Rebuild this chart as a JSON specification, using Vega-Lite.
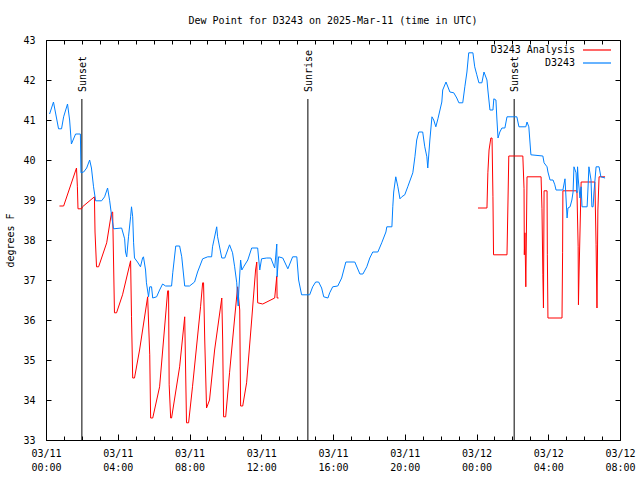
{
"$schema":"https://vega.github.io/schema/vega-lite/v6.json",
"width":574,"height":400,
"autosize":{"type":"none"},
"padding":{"left":46,"top":40,"right":20,"bottom":40},
"background":"white",
"config":{"view":{"stroke":"black","strokeWidth":1},"font":"DejaVu Sans Mono",
 "axis":{"domain":false,"grid":false,"labelFont":"DejaVu Sans Mono","labelFontSize":10,"labelColor":"black","tickColor":"black","titleFont":"DejaVu Sans Mono","titleFontSize":10,"titleFontWeight":"normal","titleColor":"black","labelFlush":false,"labelOverlap":false,"labelBound":false}},
"title":{"text":"Dew Point for D3243 on 2025-Mar-11 (time in UTC)","font":"DejaVu Sans Mono","fontSize":10,"fontWeight":"normal","color":"black","anchor":"middle","offset":9},
"datasets":{
"events":[{"t":"2025-03-11T02:00:00Z","label":"Sunset"},{"t":"2025-03-11T14:36:00Z","label":"Sunrise"},{"t":"2025-03-12T02:06:00Z","label":"Sunset"}],
"obs":[
{"t":"2025-03-11T00:45:00Z","v":38.85,"s":"D3243 Analysis","g":1},
{"t":"2025-03-11T00:59:00Z","v":38.85,"s":"D3243 Analysis","g":1},
{"t":"2025-03-11T01:42:00Z","v":39.8,"s":"D3243 Analysis","g":1},
{"t":"2025-03-11T01:45:00Z","v":39.33,"s":"D3243 Analysis","g":1},
{"t":"2025-03-11T01:47:00Z","v":38.78,"s":"D3243 Analysis","g":1},
{"t":"2025-03-11T01:59:00Z","v":38.78,"s":"D3243 Analysis","g":1},
{"t":"2025-03-11T02:02:00Z","v":38.83,"s":"D3243 Analysis","g":1},
{"t":"2025-03-11T02:42:00Z","v":39.08,"s":"D3243 Analysis","g":1},
{"t":"2025-03-11T02:44:00Z","v":38.2,"s":"D3243 Analysis","g":1},
{"t":"2025-03-11T02:49:00Z","v":37.33,"s":"D3243 Analysis","g":1},
{"t":"2025-03-11T02:56:00Z","v":37.33,"s":"D3243 Analysis","g":1},
{"t":"2025-03-11T03:23:00Z","v":37.93,"s":"D3243 Analysis","g":1},
{"t":"2025-03-11T03:39:00Z","v":38.68,"s":"D3243 Analysis","g":1},
{"t":"2025-03-11T03:43:00Z","v":38.7,"s":"D3243 Analysis","g":1},
{"t":"2025-03-11T03:46:00Z","v":37.45,"s":"D3243 Analysis","g":1},
{"t":"2025-03-11T03:49:00Z","v":36.18,"s":"D3243 Analysis","g":1},
{"t":"2025-03-11T03:56:00Z","v":36.18,"s":"D3243 Analysis","g":1},
{"t":"2025-03-11T04:16:00Z","v":36.63,"s":"D3243 Analysis","g":1},
{"t":"2025-03-11T04:43:00Z","v":37.48,"s":"D3243 Analysis","g":1},
{"t":"2025-03-11T04:46:00Z","v":36.08,"s":"D3243 Analysis","g":1},
{"t":"2025-03-11T04:50:00Z","v":34.55,"s":"D3243 Analysis","g":1},
{"t":"2025-03-11T04:56:00Z","v":34.55,"s":"D3243 Analysis","g":1},
{"t":"2025-03-11T05:13:00Z","v":35.25,"s":"D3243 Analysis","g":1},
{"t":"2025-03-11T05:40:00Z","v":36.58,"s":"D3243 Analysis","g":1},
{"t":"2025-03-11T05:47:00Z","v":35.13,"s":"D3243 Analysis","g":1},
{"t":"2025-03-11T05:50:00Z","v":33.55,"s":"D3243 Analysis","g":1},
{"t":"2025-03-11T05:57:00Z","v":33.55,"s":"D3243 Analysis","g":1},
{"t":"2025-03-11T06:20:00Z","v":34.33,"s":"D3243 Analysis","g":1},
{"t":"2025-03-11T06:47:00Z","v":36.73,"s":"D3243 Analysis","g":1},
{"t":"2025-03-11T06:50:00Z","v":36.73,"s":"D3243 Analysis","g":1},
{"t":"2025-03-11T06:52:00Z","v":34.38,"s":"D3243 Analysis","g":1},
{"t":"2025-03-11T06:57:00Z","v":33.55,"s":"D3243 Analysis","g":1},
{"t":"2025-03-11T07:00:00Z","v":33.55,"s":"D3243 Analysis","g":1},
{"t":"2025-03-11T07:27:00Z","v":34.83,"s":"D3243 Analysis","g":1},
{"t":"2025-03-11T07:44:00Z","v":36.08,"s":"D3243 Analysis","g":1},
{"t":"2025-03-11T07:47:00Z","v":34.75,"s":"D3243 Analysis","g":1},
{"t":"2025-03-11T07:50:00Z","v":33.43,"s":"D3243 Analysis","g":1},
{"t":"2025-03-11T07:57:00Z","v":33.43,"s":"D3243 Analysis","g":1},
{"t":"2025-03-11T08:10:00Z","v":34.33,"s":"D3243 Analysis","g":1},
{"t":"2025-03-11T08:37:00Z","v":36.33,"s":"D3243 Analysis","g":1},
{"t":"2025-03-11T08:44:00Z","v":36.93,"s":"D3243 Analysis","g":1},
{"t":"2025-03-11T08:47:00Z","v":36.93,"s":"D3243 Analysis","g":1},
{"t":"2025-03-11T08:51:00Z","v":35.5,"s":"D3243 Analysis","g":1},
{"t":"2025-03-11T08:57:00Z","v":33.8,"s":"D3243 Analysis","g":1},
{"t":"2025-03-11T09:07:00Z","v":34.0,"s":"D3243 Analysis","g":1},
{"t":"2025-03-11T09:24:00Z","v":35.25,"s":"D3243 Analysis","g":1},
{"t":"2025-03-11T09:48:00Z","v":36.55,"s":"D3243 Analysis","g":1},
{"t":"2025-03-11T09:51:00Z","v":35.5,"s":"D3243 Analysis","g":1},
{"t":"2025-03-11T09:54:00Z","v":33.58,"s":"D3243 Analysis","g":1},
{"t":"2025-03-11T10:01:00Z","v":33.58,"s":"D3243 Analysis","g":1},
{"t":"2025-03-11T10:14:00Z","v":34.68,"s":"D3243 Analysis","g":1},
{"t":"2025-03-11T10:31:00Z","v":36.05,"s":"D3243 Analysis","g":1},
{"t":"2025-03-11T10:41:00Z","v":36.83,"s":"D3243 Analysis","g":1},
{"t":"2025-03-11T10:48:00Z","v":36.25,"s":"D3243 Analysis","g":1},
{"t":"2025-03-11T10:51:00Z","v":33.85,"s":"D3243 Analysis","g":1},
{"t":"2025-03-11T10:58:00Z","v":33.85,"s":"D3243 Analysis","g":1},
{"t":"2025-03-11T11:11:00Z","v":34.43,"s":"D3243 Analysis","g":1},
{"t":"2025-03-11T11:28:00Z","v":36.0,"s":"D3243 Analysis","g":1},
{"t":"2025-03-11T11:41:00Z","v":37.25,"s":"D3243 Analysis","g":1},
{"t":"2025-03-11T11:45:00Z","v":37.45,"s":"D3243 Analysis","g":1},
{"t":"2025-03-11T11:48:00Z","v":36.43,"s":"D3243 Analysis","g":1},
{"t":"2025-03-11T12:05:00Z","v":36.4,"s":"D3243 Analysis","g":1},
{"t":"2025-03-11T12:45:00Z","v":36.55,"s":"D3243 Analysis","g":1},
{"t":"2025-03-11T12:52:00Z","v":37.1,"s":"D3243 Analysis","g":1},
{"t":"2025-03-11T12:53:00Z","v":36.55,"s":"D3243 Analysis","g":1},
{"t":"2025-03-11T12:58:00Z","v":36.55,"s":"D3243 Analysis","g":1},
{"t":"2025-03-12T00:05:00Z","v":38.8,"s":"D3243 Analysis","g":2},
{"t":"2025-03-12T00:35:00Z","v":38.8,"s":"D3243 Analysis","g":2},
{"t":"2025-03-12T00:38:00Z","v":39.68,"s":"D3243 Analysis","g":2},
{"t":"2025-03-12T00:42:00Z","v":40.25,"s":"D3243 Analysis","g":2},
{"t":"2025-03-12T00:48:00Z","v":40.55,"s":"D3243 Analysis","g":2},
{"t":"2025-03-12T00:52:00Z","v":40.55,"s":"D3243 Analysis","g":2},
{"t":"2025-03-12T00:55:00Z","v":39.08,"s":"D3243 Analysis","g":2},
{"t":"2025-03-12T00:57:00Z","v":37.63,"s":"D3243 Analysis","g":2},
{"t":"2025-03-12T01:42:00Z","v":37.63,"s":"D3243 Analysis","g":2},
{"t":"2025-03-12T01:45:00Z","v":38.85,"s":"D3243 Analysis","g":2},
{"t":"2025-03-12T01:48:00Z","v":40.1,"s":"D3243 Analysis","g":2},
{"t":"2025-03-12T02:35:00Z","v":40.1,"s":"D3243 Analysis","g":2},
{"t":"2025-03-12T02:39:00Z","v":39.28,"s":"D3243 Analysis","g":2},
{"t":"2025-03-12T02:40:00Z","v":37.63,"s":"D3243 Analysis","g":2},
{"t":"2025-03-12T02:42:00Z","v":38.18,"s":"D3243 Analysis","g":2},
{"t":"2025-03-12T02:45:00Z","v":36.83,"s":"D3243 Analysis","g":2},
{"t":"2025-03-12T02:49:00Z","v":39.58,"s":"D3243 Analysis","g":2},
{"t":"2025-03-12T03:36:00Z","v":39.58,"s":"D3243 Analysis","g":2},
{"t":"2025-03-12T03:39:00Z","v":38.78,"s":"D3243 Analysis","g":2},
{"t":"2025-03-12T03:42:00Z","v":37.13,"s":"D3243 Analysis","g":2},
{"t":"2025-03-12T03:44:00Z","v":36.3,"s":"D3243 Analysis","g":2},
{"t":"2025-03-12T03:46:00Z","v":39.23,"s":"D3243 Analysis","g":2},
{"t":"2025-03-12T03:56:00Z","v":39.23,"s":"D3243 Analysis","g":2},
{"t":"2025-03-12T03:57:00Z","v":37.63,"s":"D3243 Analysis","g":2},
{"t":"2025-03-12T03:59:00Z","v":36.05,"s":"D3243 Analysis","g":2},
{"t":"2025-03-12T04:46:00Z","v":36.05,"s":"D3243 Analysis","g":2},
{"t":"2025-03-12T04:48:00Z","v":37.68,"s":"D3243 Analysis","g":2},
{"t":"2025-03-12T04:49:00Z","v":39.23,"s":"D3243 Analysis","g":2},
{"t":"2025-03-12T05:36:00Z","v":39.23,"s":"D3243 Analysis","g":2},
{"t":"2025-03-12T05:40:00Z","v":37.83,"s":"D3243 Analysis","g":2},
{"t":"2025-03-12T05:41:00Z","v":36.38,"s":"D3243 Analysis","g":2},
{"t":"2025-03-12T05:43:00Z","v":37.15,"s":"D3243 Analysis","g":2},
{"t":"2025-03-12T05:50:00Z","v":39.45,"s":"D3243 Analysis","g":2},
{"t":"2025-03-12T06:36:00Z","v":39.45,"s":"D3243 Analysis","g":2},
{"t":"2025-03-12T06:40:00Z","v":37.88,"s":"D3243 Analysis","g":2},
{"t":"2025-03-12T06:43:00Z","v":36.3,"s":"D3243 Analysis","g":2},
{"t":"2025-03-12T06:46:00Z","v":38.75,"s":"D3243 Analysis","g":2},
{"t":"2025-03-12T06:50:00Z","v":39.58,"s":"D3243 Analysis","g":2},
{"t":"2025-03-12T07:10:00Z","v":39.58,"s":"D3243 Analysis","g":2},
{"t":"2025-03-11T00:12:00Z","v":41.15,"s":"D3243","g":3},
{"t":"2025-03-11T00:25:00Z","v":41.45,"s":"D3243","g":3},
{"t":"2025-03-11T00:42:00Z","v":40.78,"s":"D3243","g":3},
{"t":"2025-03-11T00:52:00Z","v":40.78,"s":"D3243","g":3},
{"t":"2025-03-11T00:59:00Z","v":41.08,"s":"D3243","g":3},
{"t":"2025-03-11T01:12:00Z","v":41.4,"s":"D3243","g":3},
{"t":"2025-03-11T01:19:00Z","v":41.0,"s":"D3243","g":3},
{"t":"2025-03-11T01:25:00Z","v":40.4,"s":"D3243","g":3},
{"t":"2025-03-11T01:39:00Z","v":40.65,"s":"D3243","g":3},
{"t":"2025-03-11T01:55:00Z","v":40.65,"s":"D3243","g":3},
{"t":"2025-03-11T01:57:00Z","v":39.68,"s":"D3243","g":3},
{"t":"2025-03-11T02:06:00Z","v":39.7,"s":"D3243","g":3},
{"t":"2025-03-11T02:16:00Z","v":39.8,"s":"D3243","g":3},
{"t":"2025-03-11T02:26:00Z","v":40.0,"s":"D3243","g":3},
{"t":"2025-03-11T02:32:00Z","v":39.8,"s":"D3243","g":3},
{"t":"2025-03-11T02:39:00Z","v":39.33,"s":"D3243","g":3},
{"t":"2025-03-11T02:46:00Z","v":38.98,"s":"D3243","g":3},
{"t":"2025-03-11T03:06:00Z","v":38.98,"s":"D3243","g":3},
{"t":"2025-03-11T03:16:00Z","v":39.08,"s":"D3243","g":3},
{"t":"2025-03-11T03:26:00Z","v":39.3,"s":"D3243","g":3},
{"t":"2025-03-11T03:33:00Z","v":38.98,"s":"D3243","g":3},
{"t":"2025-03-11T03:39:00Z","v":38.63,"s":"D3243","g":3},
{"t":"2025-03-11T03:46:00Z","v":38.28,"s":"D3243","g":3},
{"t":"2025-03-11T04:13:00Z","v":38.3,"s":"D3243","g":3},
{"t":"2025-03-11T04:23:00Z","v":38.03,"s":"D3243","g":3},
{"t":"2025-03-11T04:26:00Z","v":37.7,"s":"D3243","g":3},
{"t":"2025-03-11T04:30:00Z","v":37.58,"s":"D3243","g":3},
{"t":"2025-03-11T04:36:00Z","v":38.08,"s":"D3243","g":3},
{"t":"2025-03-11T04:43:00Z","v":38.58,"s":"D3243","g":3},
{"t":"2025-03-11T04:46:00Z","v":38.83,"s":"D3243","g":3},
{"t":"2025-03-11T04:50:00Z","v":38.58,"s":"D3243","g":3},
{"t":"2025-03-11T04:53:00Z","v":37.93,"s":"D3243","g":3},
{"t":"2025-03-11T04:56:00Z","v":37.55,"s":"D3243","g":3},
{"t":"2025-03-11T05:06:00Z","v":37.45,"s":"D3243","g":3},
{"t":"2025-03-11T05:16:00Z","v":37.33,"s":"D3243","g":3},
{"t":"2025-03-11T05:23:00Z","v":37.55,"s":"D3243","g":3},
{"t":"2025-03-11T05:26:00Z","v":37.58,"s":"D3243","g":3},
{"t":"2025-03-11T05:33:00Z","v":37.25,"s":"D3243","g":3},
{"t":"2025-03-11T05:36:00Z","v":36.93,"s":"D3243","g":3},
{"t":"2025-03-11T05:43:00Z","v":36.58,"s":"D3243","g":3},
{"t":"2025-03-11T05:47:00Z","v":36.83,"s":"D3243","g":3},
{"t":"2025-03-11T05:53:00Z","v":36.83,"s":"D3243","g":3},
{"t":"2025-03-11T05:57:00Z","v":36.55,"s":"D3243","g":3},
{"t":"2025-03-11T06:10:00Z","v":36.58,"s":"D3243","g":3},
{"t":"2025-03-11T06:20:00Z","v":36.75,"s":"D3243","g":3},
{"t":"2025-03-11T06:30:00Z","v":36.9,"s":"D3243","g":3},
{"t":"2025-03-11T06:40:00Z","v":36.85,"s":"D3243","g":3},
{"t":"2025-03-11T07:00:00Z","v":36.85,"s":"D3243","g":3},
{"t":"2025-03-11T07:04:00Z","v":37.18,"s":"D3243","g":3},
{"t":"2025-03-11T07:14:00Z","v":37.85,"s":"D3243","g":3},
{"t":"2025-03-11T07:27:00Z","v":37.85,"s":"D3243","g":3},
{"t":"2025-03-11T07:34:00Z","v":37.58,"s":"D3243","g":3},
{"t":"2025-03-11T07:44:00Z","v":36.85,"s":"D3243","g":3},
{"t":"2025-03-11T08:00:00Z","v":36.85,"s":"D3243","g":3},
{"t":"2025-03-11T08:17:00Z","v":36.95,"s":"D3243","g":3},
{"t":"2025-03-11T08:27:00Z","v":37.2,"s":"D3243","g":3},
{"t":"2025-03-11T08:44:00Z","v":37.53,"s":"D3243","g":3},
{"t":"2025-03-11T09:01:00Z","v":37.58,"s":"D3243","g":3},
{"t":"2025-03-11T09:14:00Z","v":37.58,"s":"D3243","g":3},
{"t":"2025-03-11T09:17:00Z","v":37.83,"s":"D3243","g":3},
{"t":"2025-03-11T09:31:00Z","v":38.33,"s":"D3243","g":3},
{"t":"2025-03-11T09:34:00Z","v":38.08,"s":"D3243","g":3},
{"t":"2025-03-11T09:48:00Z","v":37.55,"s":"D3243","g":3},
{"t":"2025-03-11T09:58:00Z","v":37.55,"s":"D3243","g":3},
{"t":"2025-03-11T10:14:00Z","v":37.88,"s":"D3243","g":3},
{"t":"2025-03-11T10:24:00Z","v":37.68,"s":"D3243","g":3},
{"t":"2025-03-11T10:31:00Z","v":37.33,"s":"D3243","g":3},
{"t":"2025-03-11T10:38:00Z","v":36.93,"s":"D3243","g":3},
{"t":"2025-03-11T10:41:00Z","v":36.5,"s":"D3243","g":3},
{"t":"2025-03-11T10:43:00Z","v":36.35,"s":"D3243","g":3},
{"t":"2025-03-11T10:45:00Z","v":36.75,"s":"D3243","g":3},
{"t":"2025-03-11T10:51:00Z","v":37.5,"s":"D3243","g":3},
{"t":"2025-03-11T10:55:00Z","v":37.25,"s":"D3243","g":3},
{"t":"2025-03-11T11:01:00Z","v":37.33,"s":"D3243","g":3},
{"t":"2025-03-11T11:15:00Z","v":37.5,"s":"D3243","g":3},
{"t":"2025-03-11T11:28:00Z","v":37.8,"s":"D3243","g":3},
{"t":"2025-03-11T11:48:00Z","v":37.8,"s":"D3243","g":3},
{"t":"2025-03-11T11:55:00Z","v":37.25,"s":"D3243","g":3},
{"t":"2025-03-11T12:01:00Z","v":37.53,"s":"D3243","g":3},
{"t":"2025-03-11T12:18:00Z","v":37.55,"s":"D3243","g":3},
{"t":"2025-03-11T12:32:00Z","v":37.55,"s":"D3243","g":3},
{"t":"2025-03-11T12:45:00Z","v":37.3,"s":"D3243","g":3},
{"t":"2025-03-11T12:52:00Z","v":37.9,"s":"D3243","g":3},
{"t":"2025-03-11T12:53:00Z","v":37.08,"s":"D3243","g":3},
{"t":"2025-03-11T12:58:00Z","v":37.58,"s":"D3243","g":3},
{"t":"2025-03-11T13:12:00Z","v":37.55,"s":"D3243","g":3},
{"t":"2025-03-11T13:29:00Z","v":37.28,"s":"D3243","g":3},
{"t":"2025-03-11T13:45:00Z","v":37.58,"s":"D3243","g":3},
{"t":"2025-03-11T13:59:00Z","v":37.58,"s":"D3243","g":3},
{"t":"2025-03-11T14:05:00Z","v":37.0,"s":"D3243","g":3},
{"t":"2025-03-11T14:15:00Z","v":36.63,"s":"D3243","g":3},
{"t":"2025-03-11T14:42:00Z","v":36.63,"s":"D3243","g":3},
{"t":"2025-03-11T14:52:00Z","v":36.83,"s":"D3243","g":3},
{"t":"2025-03-11T15:02:00Z","v":36.95,"s":"D3243","g":3},
{"t":"2025-03-11T15:12:00Z","v":36.95,"s":"D3243","g":3},
{"t":"2025-03-11T15:22:00Z","v":36.8,"s":"D3243","g":3},
{"t":"2025-03-11T15:29:00Z","v":36.58,"s":"D3243","g":3},
{"t":"2025-03-11T15:43:00Z","v":36.55,"s":"D3243","g":3},
{"t":"2025-03-11T15:49:00Z","v":36.68,"s":"D3243","g":3},
{"t":"2025-03-11T15:59:00Z","v":36.83,"s":"D3243","g":3},
{"t":"2025-03-11T16:16:00Z","v":36.85,"s":"D3243","g":3},
{"t":"2025-03-11T16:29:00Z","v":37.05,"s":"D3243","g":3},
{"t":"2025-03-11T16:43:00Z","v":37.45,"s":"D3243","g":3},
{"t":"2025-03-11T17:13:00Z","v":37.45,"s":"D3243","g":3},
{"t":"2025-03-11T17:30:00Z","v":37.15,"s":"D3243","g":3},
{"t":"2025-03-11T17:40:00Z","v":37.15,"s":"D3243","g":3},
{"t":"2025-03-11T17:53:00Z","v":37.33,"s":"D3243","g":3},
{"t":"2025-03-11T18:03:00Z","v":37.55,"s":"D3243","g":3},
{"t":"2025-03-11T18:13:00Z","v":37.7,"s":"D3243","g":3},
{"t":"2025-03-11T18:30:00Z","v":37.7,"s":"D3243","g":3},
{"t":"2025-03-11T18:43:00Z","v":37.93,"s":"D3243","g":3},
{"t":"2025-03-11T18:57:00Z","v":38.2,"s":"D3243","g":3},
{"t":"2025-03-11T19:00:00Z","v":38.33,"s":"D3243","g":3},
{"t":"2025-03-11T19:17:00Z","v":38.33,"s":"D3243","g":3},
{"t":"2025-03-11T19:20:00Z","v":38.83,"s":"D3243","g":3},
{"t":"2025-03-11T19:23:00Z","v":39.2,"s":"D3243","g":3},
{"t":"2025-03-11T19:30:00Z","v":39.58,"s":"D3243","g":3},
{"t":"2025-03-11T19:37:00Z","v":39.33,"s":"D3243","g":3},
{"t":"2025-03-11T19:44:00Z","v":39.03,"s":"D3243","g":3},
{"t":"2025-03-11T19:50:00Z","v":39.08,"s":"D3243","g":3},
{"t":"2025-03-11T20:00:00Z","v":39.13,"s":"D3243","g":3},
{"t":"2025-03-11T20:10:00Z","v":39.33,"s":"D3243","g":3},
{"t":"2025-03-11T20:27:00Z","v":39.68,"s":"D3243","g":3},
{"t":"2025-03-11T20:34:00Z","v":40.08,"s":"D3243","g":3},
{"t":"2025-03-11T20:40:00Z","v":40.5,"s":"D3243","g":3},
{"t":"2025-03-11T20:47:00Z","v":40.7,"s":"D3243","g":3},
{"t":"2025-03-11T21:00:00Z","v":40.7,"s":"D3243","g":3},
{"t":"2025-03-11T21:07:00Z","v":40.33,"s":"D3243","g":3},
{"t":"2025-03-11T21:14:00Z","v":40.08,"s":"D3243","g":3},
{"t":"2025-03-11T21:17:00Z","v":39.8,"s":"D3243","g":3},
{"t":"2025-03-11T21:24:00Z","v":40.5,"s":"D3243","g":3},
{"t":"2025-03-11T21:31:00Z","v":41.08,"s":"D3243","g":3},
{"t":"2025-03-11T21:37:00Z","v":41.0,"s":"D3243","g":3},
{"t":"2025-03-11T21:44:00Z","v":40.83,"s":"D3243","g":3},
{"t":"2025-03-11T21:51:00Z","v":41.03,"s":"D3243","g":3},
{"t":"2025-03-11T22:04:00Z","v":41.45,"s":"D3243","g":3},
{"t":"2025-03-11T22:07:00Z","v":41.75,"s":"D3243","g":3},
{"t":"2025-03-11T22:18:00Z","v":41.95,"s":"D3243","g":3},
{"t":"2025-03-11T22:31:00Z","v":41.7,"s":"D3243","g":3},
{"t":"2025-03-11T22:44:00Z","v":41.68,"s":"D3243","g":3},
{"t":"2025-03-11T22:54:00Z","v":41.55,"s":"D3243","g":3},
{"t":"2025-03-11T23:01:00Z","v":41.43,"s":"D3243","g":3},
{"t":"2025-03-11T23:14:00Z","v":41.43,"s":"D3243","g":3},
{"t":"2025-03-11T23:21:00Z","v":41.83,"s":"D3243","g":3},
{"t":"2025-03-11T23:28:00Z","v":42.2,"s":"D3243","g":3},
{"t":"2025-03-11T23:34:00Z","v":42.68,"s":"D3243","g":3},
{"t":"2025-03-11T23:48:00Z","v":42.68,"s":"D3243","g":3},
{"t":"2025-03-11T23:54:00Z","v":42.33,"s":"D3243","g":3},
{"t":"2025-03-12T00:01:00Z","v":42.13,"s":"D3243","g":3},
{"t":"2025-03-12T00:08:00Z","v":41.93,"s":"D3243","g":3},
{"t":"2025-03-12T00:18:00Z","v":41.93,"s":"D3243","g":3},
{"t":"2025-03-12T00:25:00Z","v":42.2,"s":"D3243","g":3},
{"t":"2025-03-12T00:35:00Z","v":42.0,"s":"D3243","g":3},
{"t":"2025-03-12T00:38:00Z","v":41.75,"s":"D3243","g":3},
{"t":"2025-03-12T00:45:00Z","v":41.25,"s":"D3243","g":3},
{"t":"2025-03-12T00:55:00Z","v":41.25,"s":"D3243","g":3},
{"t":"2025-03-12T00:58:00Z","v":41.53,"s":"D3243","g":3},
{"t":"2025-03-12T01:05:00Z","v":41.5,"s":"D3243","g":3},
{"t":"2025-03-12T01:08:00Z","v":41.05,"s":"D3243","g":3},
{"t":"2025-03-12T01:12:00Z","v":40.55,"s":"D3243","g":3},
{"t":"2025-03-12T01:18:00Z","v":40.7,"s":"D3243","g":3},
{"t":"2025-03-12T01:25:00Z","v":40.8,"s":"D3243","g":3},
{"t":"2025-03-12T01:35:00Z","v":40.8,"s":"D3243","g":3},
{"t":"2025-03-12T01:42:00Z","v":41.08,"s":"D3243","g":3},
{"t":"2025-03-12T02:15:00Z","v":41.08,"s":"D3243","g":3},
{"t":"2025-03-12T02:22:00Z","v":40.83,"s":"D3243","g":3},
{"t":"2025-03-12T02:45:00Z","v":40.83,"s":"D3243","g":3},
{"t":"2025-03-12T02:49:00Z","v":40.95,"s":"D3243","g":3},
{"t":"2025-03-12T02:55:00Z","v":40.83,"s":"D3243","g":3},
{"t":"2025-03-12T03:02:00Z","v":40.13,"s":"D3243","g":3},
{"t":"2025-03-12T03:42:00Z","v":40.1,"s":"D3243","g":3},
{"t":"2025-03-12T03:46:00Z","v":39.93,"s":"D3243","g":3},
{"t":"2025-03-12T03:56:00Z","v":39.83,"s":"D3243","g":3},
{"t":"2025-03-12T03:59:00Z","v":39.7,"s":"D3243","g":3},
{"t":"2025-03-12T04:06:00Z","v":39.5,"s":"D3243","g":3},
{"t":"2025-03-12T04:16:00Z","v":39.5,"s":"D3243","g":3},
{"t":"2025-03-12T04:22:00Z","v":39.38,"s":"D3243","g":3},
{"t":"2025-03-12T04:26:00Z","v":39.25,"s":"D3243","g":3},
{"t":"2025-03-12T04:49:00Z","v":39.25,"s":"D3243","g":3},
{"t":"2025-03-12T04:56:00Z","v":39.53,"s":"D3243","g":3},
{"t":"2025-03-12T05:03:00Z","v":38.55,"s":"D3243","g":3},
{"t":"2025-03-12T05:06:00Z","v":38.8,"s":"D3243","g":3},
{"t":"2025-03-12T05:13:00Z","v":38.83,"s":"D3243","g":3},
{"t":"2025-03-12T05:19:00Z","v":39.0,"s":"D3243","g":3},
{"t":"2025-03-12T05:23:00Z","v":39.2,"s":"D3243","g":3},
{"t":"2025-03-12T05:26:00Z","v":39.83,"s":"D3243","g":3},
{"t":"2025-03-12T05:33:00Z","v":39.68,"s":"D3243","g":3},
{"t":"2025-03-12T05:36:00Z","v":39.18,"s":"D3243","g":3},
{"t":"2025-03-12T05:38:00Z","v":39.83,"s":"D3243","g":3},
{"t":"2025-03-12T05:40:00Z","v":39.55,"s":"D3243","g":3},
{"t":"2025-03-12T05:46:00Z","v":39.05,"s":"D3243","g":3},
{"t":"2025-03-12T05:50:00Z","v":39.33,"s":"D3243","g":3},
{"t":"2025-03-12T05:53:00Z","v":38.83,"s":"D3243","g":3},
{"t":"2025-03-12T06:10:00Z","v":38.83,"s":"D3243","g":3},
{"t":"2025-03-12T06:13:00Z","v":39.3,"s":"D3243","g":3},
{"t":"2025-03-12T06:16:00Z","v":39.83,"s":"D3243","g":3},
{"t":"2025-03-12T06:23:00Z","v":39.5,"s":"D3243","g":3},
{"t":"2025-03-12T06:26:00Z","v":38.83,"s":"D3243","g":3},
{"t":"2025-03-12T06:30:00Z","v":38.83,"s":"D3243","g":3},
{"t":"2025-03-12T06:33:00Z","v":39.2,"s":"D3243","g":3},
{"t":"2025-03-12T06:40:00Z","v":39.83,"s":"D3243","g":3},
{"t":"2025-03-12T06:50:00Z","v":39.83,"s":"D3243","g":3},
{"t":"2025-03-12T06:56:00Z","v":39.58,"s":"D3243","g":3},
{"t":"2025-03-12T07:10:00Z","v":39.55,"s":"D3243","g":3}
]},
"layer":[
{"data":{"name":"events"},
 "mark":{"type":"rule","color":"black","strokeWidth":1},
 "encoding":{
  "x":{"field":"t","type":"temporal","scale":{"type":"utc","domain":[1741651200000,1741766400000]},
       "axis":{"orient":"bottom","title":null,"values":[1741651200000,1741665600000,1741680000000,1741694400000,1741708800000,1741723200000,1741737600000,1741752000000,1741766400000],"tickSize":-6,"labelPadding":14,"labelAlign":"center","labelBaseline":"top","labelLineHeight":14,"labelExpr":"[utcFormat(datum.value,'%m/%d'), utcFormat(datum.value,'%H:%M')]"}},
  "y":{"datum":41.525,"type":"quantitative","scale":{"domain":[33,43],"nice":false,"zero":false},
       "axis":{"orient":"left","title":"degrees F","values":[33,34,35,36,37,38,39,40,41,42,43],"tickSize":-5,"labelPadding":16,"titlePadding":7}},
  "y2":{"datum":33}
 }},
{"data":{"name":"events"},
 "mark":{"type":"text","angle":270,"align":"left","baseline":"middle","font":"DejaVu Sans Mono","fontSize":10,"color":"black","dy":1},
 "encoding":{
  "x":{"field":"t","type":"temporal","scale":{"type":"utc","domain":[1741651200000,1741766400000]},"axis":{"orient":"top","title":null,"labels":false,"values":[1741651200000,1741654800000,1741658400000,1741662000000,1741665600000,1741669200000,1741672800000,1741676400000,1741680000000,1741683600000,1741687200000,1741690800000,1741694400000,1741698000000,1741701600000,1741705200000,1741708800000,1741712400000,1741716000000,1741719600000,1741723200000,1741726800000,1741730400000,1741734000000,1741737600000,1741741200000,1741744800000,1741748400000,1741752000000,1741755600000,1741759200000,1741762800000,1741766400000],"tickSize":-4}},
  "y":{"datum":41.7,"type":"quantitative","scale":{"domain":[33,43],"nice":false,"zero":false},"axis":{"orient":"right","title":null,"labels":false,"values":[33,34,35,36,37,38,39,40,41,42,43],"tickSize":-5}},
  "text":{"field":"label"}
 }},
{"data":{"name":"obs"},
 "mark":{"type":"line","strokeWidth":1},
 "encoding":{
  "x":{"field":"t","type":"temporal","scale":{"type":"utc","domain":[1741651200000,1741766400000]},"axis":{"orient":"bottom","title":null,"labels":false,"values":[1741651200000,1741654800000,1741658400000,1741662000000,1741665600000,1741669200000,1741672800000,1741676400000,1741680000000,1741683600000,1741687200000,1741690800000,1741694400000,1741698000000,1741701600000,1741705200000,1741708800000,1741712400000,1741716000000,1741719600000,1741723200000,1741726800000,1741730400000,1741734000000,1741737600000,1741741200000,1741744800000,1741748400000,1741752000000,1741755600000,1741759200000,1741762800000,1741766400000],"tickSize":-4}},
  "y":{"field":"v","type":"quantitative","scale":{"domain":[33,43],"nice":false,"zero":false},"axis":null},
  "color":{"field":"s","type":"nominal","scale":{"domain":["D3243 Analysis","D3243"],"range":["#ff0000","#0080ff"]},
     "legend":{"title":null,"orient":"none","legendX":543,"legendY":2,"padding":0,"symbolType":"M-2,0L2,0","symbolSize":196,"symbolStrokeWidth":1.2,"rowPadding":0,"labelAlign":"right","labelOffset":-30,"labelFont":"DejaVu Sans Mono","labelFontSize":10,"labelColor":"black","labelLimit":300}},
  "detail":{"field":"g","type":"nominal"}
 }}
],
"resolve":{"axis":{"x":"independent","y":"independent"}}
}
